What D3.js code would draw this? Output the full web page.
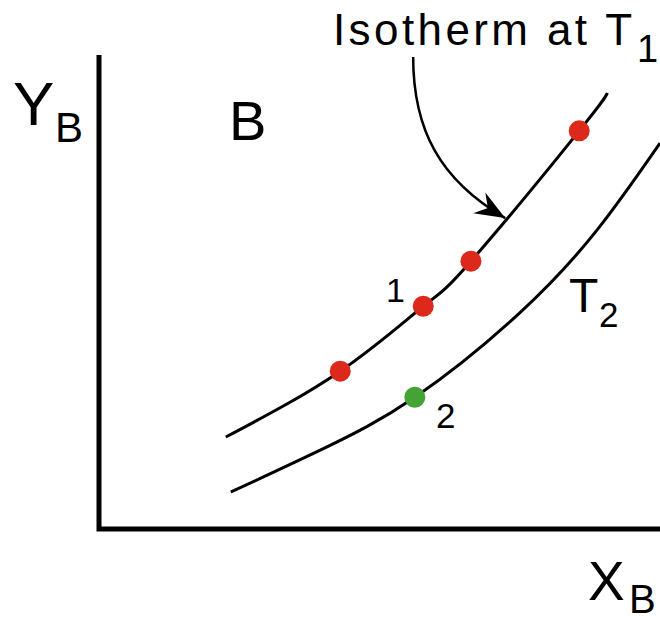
<!DOCTYPE html>
<html>
<head>
<meta charset="utf-8">
<script src="https://cdn.jsdelivr.net/npm/d3@7"></script>
<style>
  html, body { margin: 0; padding: 0; background: #fff; }
  text { font-family: "Liberation Sans", Arial, sans-serif; fill: #000; }
</style>
</head>
<body>
<script>
var width  = 660;
var height = 621;

// isotherm T1 (upper curve), arbitrary units 0..100
var t1X = [22.6, 43.0, 57.8, 66.3, 85.6, 90.6];
var t1Y = [19.4, 33.3, 47.0, 56.5, 84.0, 92.0];
// isotherm T2 (lower curve)
var t2X = [23.5, 39.9, 56.3, 75.0, 88.8, 100];
var t2Y = [7.8, 16.9, 27.8, 45.6, 63.1, 81.4];
// red points on T1, green point on T2
var redX = [43.0, 57.8, 66.3, 85.6];
var redY = [33.3, 47.0, 56.5, 84.0];
var greenX = [56.3];
var greenY = [27.8];
// arrow from the label down to the T1 curve (start, control1, control2, end)
var arrowX = [56.0, 56.0, 60.8, 72.4];
var arrowY = [99.6, 84.2, 73.6, 65.6];

var x = d3.scaleLinear().domain([0, 100]).range([99, 660]);
var y = d3.scaleLinear().domain([0, 100]).range([529, 55]);

var svg = d3.select('body')
  .append('svg')
  .attr('width', width)
  .attr('height', height)
  .attr('viewBox', [0, 0, width, height].join(' '));

svg.append('defs').append('marker')
  .attr('id', 'head')
  .attr('markerUnits', 'userSpaceOnUse')
  .attr('viewBox', '-30 -13 32 26')
  .attr('refX', 0).attr('refY', 0)
  .attr('markerWidth', 32).attr('markerHeight', 26)
  .attr('orient', 'auto')
  .append('path')
  .attr('d', 'M0,0 L-30,-12 L-20,0 L-30,12 Z')
  .attr('fill', '#000');

// axes: plain L shape, no ticks
svg.append('path')
  .attr('d', 'M' + x(0) + ',' + y(100) + 'V' + y(0) + 'H' + x(100))
  .attr('fill', 'none')
  .attr('stroke', '#000')
  .attr('stroke-width', 5);

var line = d3.line()
  .x(function(d) { return x(d[0]); })
  .y(function(d) { return y(d[1]); })
  .curve(d3.curveNatural);

svg.append('path')
  .attr('d', line(d3.zip(t1X, t1Y)))
  .attr('fill', 'none').attr('stroke', '#000').attr('stroke-width', 3);

svg.append('path')
  .attr('d', line(d3.zip(t2X, t2Y)))
  .attr('fill', 'none').attr('stroke', '#000').attr('stroke-width', 3);

// arrow
var a = d3.path();
a.moveTo(x(arrowX[0]), y(arrowY[0]));
a.bezierCurveTo(x(arrowX[1]), y(arrowY[1]), x(arrowX[2]), y(arrowY[2]), x(arrowX[3]), y(arrowY[3]));
svg.append('path')
  .attr('d', a.toString())
  .attr('fill', 'none').attr('stroke', '#000').attr('stroke-width', 2.5)
  .attr('marker-end', 'url(#head)');

svg.selectAll('.red')
  .data(d3.zip(redX, redY))
  .enter().append('circle')
  .attr('class', 'red')
  .attr('cx', function(d) { return x(d[0]); })
  .attr('cy', function(d) { return y(d[1]); })
  .attr('r', 10.5)
  .attr('fill', '#dc291b');

svg.selectAll('.green')
  .data(d3.zip(greenX, greenY))
  .enter().append('circle')
  .attr('class', 'green')
  .attr('cx', function(d) { return x(d[0]); })
  .attr('cy', function(d) { return y(d[1]); })
  .attr('r', 10.5)
  .attr('fill', '#45a234');

// labels
function label(tx, ty, size, str, spacing) {
  return svg.append('text')
    .attr('x', tx).attr('y', ty)
    .attr('font-size', size)
    .style('letter-spacing', spacing || 0)
    .text(str);
}

label(333, 45, 44, 'Isotherm at T', '3.4px');
label(637, 62, 38, '1');
label(13, 125, 62, 'Y');
label(55, 142, 42, 'B');
label(229, 140, 56, 'B');
label(588, 600, 55, 'X');
label(629, 613, 40, 'B');
label(386, 302, 34, '1');
label(436, 428, 35, '2');
label(569, 312, 48, 'T');
label(599, 327, 35, '2');
</script>
</body>
</html>
